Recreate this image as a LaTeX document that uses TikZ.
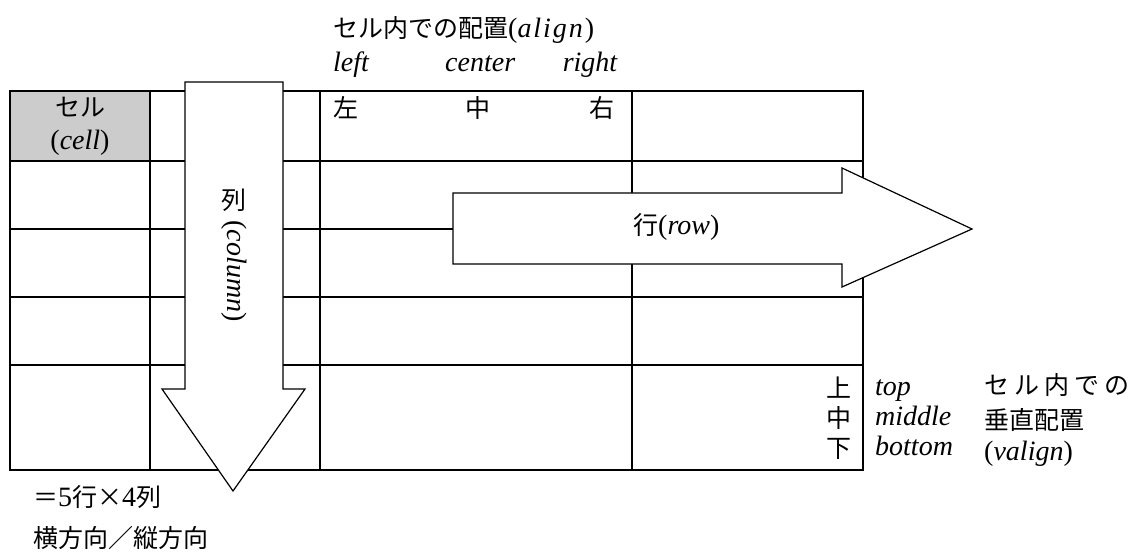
\documentclass[tikz,border=0pt]{standalone}
\usepackage{fontspec}
\setmainfont{Liberation Serif}
\newfontfamily\jpfont{Noto Sans CJK JP}
\newcommand{\ja}[1]{{\jpfont #1}}
\newcommand{\en}[1]{{\fontsize{28}{30}\selectfont\textit{#1}}}
\newcommand{\pl}[1]{{\fontsize{28}{30}\selectfont #1}}
\begin{document}
\begin{tikzpicture}[x=1pt, y=-1pt,
  grid/.style={line width=2pt, line cap=rect},
  bigarrow/.style={draw=black, line width=1.2pt, fill=white, line join=miter},
  lbl/.style={inner sep=0pt, font=\fontsize{25}{28}\selectfont}]
\useasboundingbox (0,0) rectangle (1140,556);
% セル（塗り）
\fill[gray!40] (10,91) rectangle (150,161);
% 表の罫線 5行x4列
\foreach \y in {91,161,229,297,365,470}
  \draw[grid] (10,\y) -- (863,\y);
\foreach \x in {10,150,320,632,863}
  \draw[grid] (\x,91) -- (\x,470);
% 列の矢印
\draw[bigarrow] (185,82) -- (283,82) -- (283,389) -- (305,389) -- (233,491)
  -- (162,389) -- (185,389) -- cycle;
% 行の矢印
\draw[bigarrow] (453,193) -- (842,193) -- (842,168) -- (972,229) -- (842,287)
  -- (842,264) -- (453,264) -- cycle;
% 横の配置
\node[lbl, anchor=base west] (align) at (333,38)
  {\ja{セル内での配置}\pl{(}\en{\addfontfeature{LetterSpace=7}align}\pl{)}};
\node[lbl, anchor=base west] (left) at (333,72) {\en{left}};
\node[lbl, anchor=base west] (center) at (445,72) {\en{center}};
\node[lbl, anchor=base east] (right) at (618,72) {\en{right}};
\node[lbl, anchor=base west] (hleft) at (333,118) {\ja{左}};
\node[lbl, anchor=base] (hcenter) at (478,118) {\ja{中}};
\node[lbl, anchor=base east] (hright) at (615,118) {\ja{右}};
% セル
\node[lbl, anchor=base] (cell) at (80,117) {\ja{セル}};
\node[lbl, anchor=base] (cellen) at (80,150) {\pl{(}\en{cell}\pl{)}};
% 矢印のラベル
\node[lbl] (col) at (234,200) {\ja{列}};
\node[lbl, rotate=-90] (colen) at (234,271) {\pl{(}\en{column}\pl{)}};
\node[lbl, anchor=base west] (row) at (633,234) {\ja{行}\pl{(}\en{row}\pl{)}};
% 縦の配置
\node[lbl, anchor=base east] (vtop) at (852,397) {\ja{上}};
\node[lbl, anchor=base east] (vmid) at (852,427) {\ja{中}};
\node[lbl, anchor=base east] (vbot) at (852,457) {\ja{下}};
\node[lbl, anchor=base west] (top) at (875,395) {\en{top}};
\node[lbl, anchor=base west] (middle) at (875,425) {\en{middle}};
\node[lbl, anchor=base west] (bottom) at (875,455) {\en{bottom}};
\node[lbl, anchor=base west] (valign1) at (984,394)
  {\ja{セ\hspace{5pt}ル\hspace{5pt}内\hspace{5pt}で\hspace{5pt}の}};
\node[lbl, anchor=base west] (valign2) at (984,429) {\ja{垂直配置}};
\node[lbl, anchor=base west] (valign3) at (984,460) {\pl{(}\en{valign}\pl{)}};
% 下の説明
\node[lbl, anchor=base west] (size) at (33,506) {\ja{＝}\pl{5}\ja{行×}\pl{4}\ja{列}};
\node[lbl, anchor=base west] (dir) at (33,547) {\ja{横方向／縦方向}};
\end{tikzpicture}
\end{document}
